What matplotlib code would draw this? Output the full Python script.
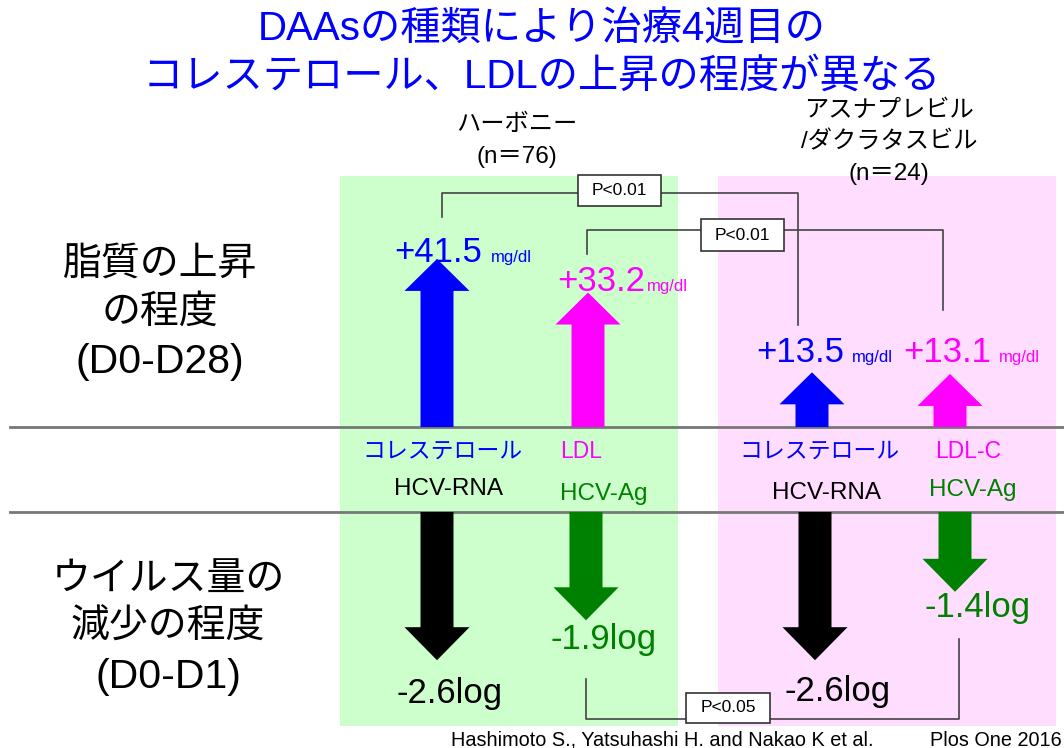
import matplotlib
matplotlib.use("Agg")
import matplotlib.pyplot as plt
from matplotlib.patches import Rectangle, FancyArrow

# ---------------- data ----------------
title_lines = ["DAAsの種類により治療4週目の", "コレステロール、LDLの上昇の程度が異なる"]
row_labels_top = ["脂質の上昇", "の程度", "(D0-D28)"]
row_labels_bottom = ["ウイルス量の", "減少の程度", "(D0-D1)"]
group_names = [["ハーボニー", "(n＝76)"], ["アスナプレビル", "/ダクラタスビル", "(n＝24)"]]
lipid_names = ["コレステロール", "LDL", "コレステロール", "LDL-C"]
lipid_rise = [41.5, 33.2, 13.5, 13.1]          # mg/dl
virus_names = ["HCV-RNA", "HCV-Ag", "HCV-RNA", "HCV-Ag"]
virus_drop = [-2.6, -1.9, -2.6, -1.4]          # log
p_labels = ["P<0.01", "P<0.01", "P<0.05"]
citation_authors = "Hashimoto S., Yatsuhashi H. and Nakao K et al."
citation_journal = "Plos One 2016"

# ---------------- styles ----------------
W, H = 1064, 748
FAM = ["Liberation Sans", "Noto Sans CJK JP", "DejaVu Sans"]
plt.rcParams["font.family"] = FAM
BLUE, MAG, GREEN, BLACK = "#0000FF", "#FF00FF", "#008000", "#000000"
lipid_colors = [BLUE, MAG, BLUE, MAG]
virus_colors = [BLACK, GREEN, BLACK, GREEN]
arrow_up_x = [437, 588, 812, 950]
arrow_dn_x = [437, 586, 815, 955]
BASE_UP, BASE_DN = 427, 512
UP_PX = 4.05      # pixels per mg/dl
DN_PX = 57.0      # pixels per log

fig = plt.figure(figsize=(W / 100, H / 100), dpi=100)
ax = fig.add_axes([0, 0, 1, 1])
ax.set_xlim(0, W)
ax.set_ylim(H, 0)
ax.axis("off")

# backgrounds
ax.add_patch(Rectangle((340, 176), 338, 550, facecolor="#CCFFCC", edgecolor="none", zorder=0))
ax.add_patch(Rectangle((718, 176), 338, 550, facecolor="#FFDDFF", edgecolor="none", zorder=0))

# separator lines
for y in (BASE_UP, BASE_DN):
    ax.plot([10, W], [y, y], color="#777777", lw=2, zorder=3)

# title
ax.text(542, 30, title_lines[0], color=BLUE, fontsize=29, ha="center", va="center", family=FAM)
ax.text(542, 77, title_lines[1], color=BLUE, fontsize=29, ha="center", va="center", family=FAM)

# row labels
for t, y, fs in zip(row_labels_top, [265, 313, 362], [28, 28, 29.5]):
    ax.text(160, y, t, fontsize=fs, ha="center", va="center", family=FAM)
for t, y, fs in zip(row_labels_bottom, [580, 628, 677], [28, 28, 29.5]):
    ax.text(168, y, t, fontsize=fs, ha="center", va="center", family=FAM)

# group names
for t, y in zip(group_names[0], [125, 157]):
    ax.text(517, y, t, fontsize=17.5, ha="center", va="center", family=FAM)
for t, y in zip(group_names[1], [111, 142, 174]):
    ax.text(889, y, t, fontsize=17.5, ha="center", va="center", family=FAM)

# arrows: lipid rise
ax_up = fig.add_axes([0, (H - BASE_UP) / H, 1, 200 / H])
ax_up.set_xlim(0, W)
ax_up.set_ylim(0, 200 / UP_PX)
ax_up.axis("off")
for x, v, c in zip(arrow_up_x, lipid_rise, lipid_colors):
    ax_up.add_patch(FancyArrow(x, 0, 0, v, width=33, head_width=65, head_length=32 / UP_PX,
                               length_includes_head=True, color=c, lw=0))

# arrows: virus decline
ax_dn = fig.add_axes([0, (H - BASE_DN - 200) / H, 1, 200 / H])
ax_dn.set_xlim(0, W)
ax_dn.set_ylim(-200 / DN_PX, 0)
ax_dn.axis("off")
for x, v, c in zip(arrow_dn_x, virus_drop, virus_colors):
    ax_dn.add_patch(FancyArrow(x, 0, 0, v, width=33, head_width=65, head_length=33 / DN_PX,
                               length_includes_head=True, color=c, lw=0))

# lipid value labels (big number + small unit placed after it)
big_pos = [(394, 262), (557, 291), (756, 362), (903, 362)]
unit_x_ref = [491, 642, 852, 999]
fig.canvas.draw()
renderer = fig.canvas.get_renderer()
inv = ax.transData.inverted()
for v, c, (bx, by), ux in zip(lipid_rise, lipid_colors, big_pos, unit_x_ref):
    t = ax.text(bx, by, f"+{v}", color=c, fontsize=25, ha="left", va="baseline", family=FAM, zorder=5)
    bb = t.get_window_extent(renderer)
    x_end = inv.transform((bb.x1, bb.y0))[0]
    ax.text(max(ux, x_end + 2), by, "mg/dl", color=c, fontsize=12, ha="left", va="baseline",
            family=FAM, zorder=5)

# names between lines
lip_name_pos = [(442, 451), (581, 451), (819, 451), (968, 451)]
vir_name_pos = [(448, 489), (604, 494), (827, 493), (973, 490)]
for t, c, (x, y) in zip(lipid_names, lipid_colors, lip_name_pos):
    ax.text(x, y, t, color=c, fontsize=16.5, ha="center", va="center", family=FAM)
for t, c, (x, y) in zip(virus_names, virus_colors, vir_name_pos):
    ax.text(x, y, t, color=c, fontsize=17.5, ha="center", va="center", family=FAM)

# virus value labels
dn_lab_pos = [(450, 693), (604, 640), (838, 692), (978, 607)]
for v, c, (x, y) in zip(virus_drop, virus_colors, dn_lab_pos):
    ax.text(x, y, f"{v}log", color=c, fontsize=25, ha="center", va="center", family=FAM, zorder=5)

# brackets
LC = "#444444"
ax.plot([442, 442, 798, 798], [217, 193, 193, 325], color=LC, lw=1.2, zorder=2)
ax.plot([587, 587, 943, 943], [254, 230, 230, 310], color=LC, lw=1.2, zorder=2)
ax.plot([586, 586, 959, 959], [679, 719, 719, 639], color=LC, lw=1.2, zorder=2)

# p-value boxes
boxes = [(578, 175, 83, 31), (701, 219, 83, 32), (686, 693, 84, 30)]
for t, (x, y, w, h) in zip(p_labels, boxes):
    ax.add_patch(Rectangle((x, y), w, h, facecolor="white", edgecolor="#333333", lw=1.2, zorder=4))
    ax.text(x + w / 2, y + h / 2, t, fontsize=12.5, ha="center", va="center", family=FAM, zorder=5)

# citation
ax.text(451, 740, citation_authors, fontsize=14.3, ha="left", va="center", family=FAM)
ax.text(930, 740, citation_journal, fontsize=14.3, ha="left", va="center", family=FAM)

fig.savefig("out.png", dpi=100, facecolor="white")
